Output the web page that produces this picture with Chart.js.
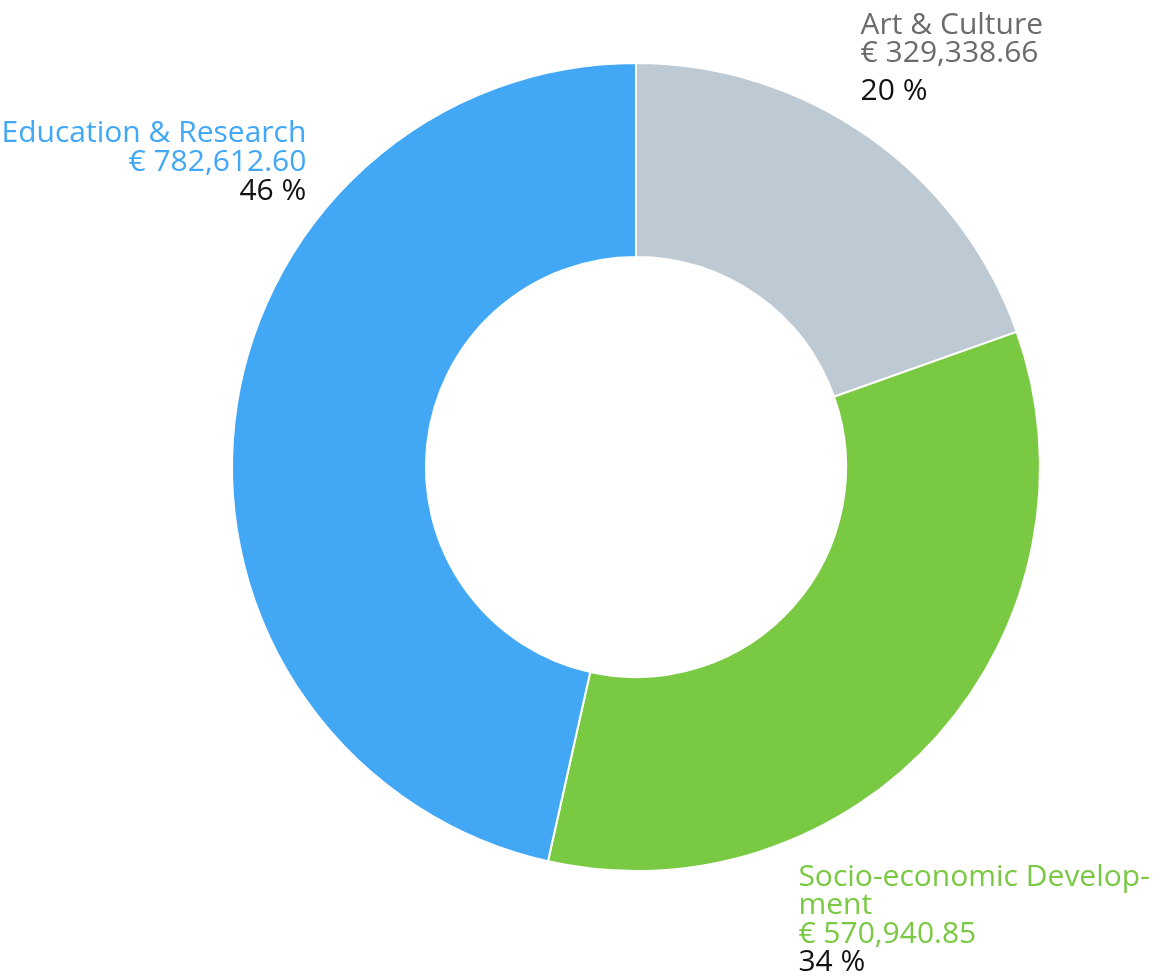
<!DOCTYPE html>
<html>
<head>
<meta charset="utf-8">
<script src="https://cdn.jsdelivr.net/npm/chart.js@4.4.1/dist/chart.umd.min.js"></script>
<style>
  html, body { margin: 0; padding: 0; background: #fff; }
  #wrap { width: 1163px; height: 978px; position: relative; }
</style>
</head>
<body>
<div id="wrap"><canvas id="donut"></canvas></div>
<script>
// data, clockwise from 12 o'clock
const categories = ['Art & Culture', 'Socio-economic Development', 'Education & Research'];
const amounts = [329338.66, 570940.85, 782612.60];
const amountLabels = ['€ 329,338.66', '€ 570,940.85', '€ 782,612.60'];
const percentLabels = ['20 %', '34 %', '46 %'];
const nameLines = [['Art & Culture'], ['Socio-economic Develop-', 'ment'], ['Education & Research']];

const sliceColors = ['#bdcad3', '#7ac943', '#42a8f5'];
const labelColors = ['#6b6b6b', '#7ac943', '#42a8f5'];

// label anchors in units of the outer radius, relative to the centre
const labelPlace = [
    { dx: 0.556, dy: -1.072, align: 'left', pctGap: 38 },
    { dx: 0.402, dy: 1.037, align: 'left', pctGap: 28 },
    { dx: -0.816, dy: -0.804, align: 'right', pctGap: 29 }
];

const labelPlugin = {
    id: 'sliceLabels',
    afterDraw(chart) {
        const ctx = chart.ctx;
        const meta = chart.getDatasetMeta(0);
        ctx.save();
        ctx.font = '30px "Open Sans", Lato, sans-serif';
        ctx.textBaseline = 'alphabetic';
        meta.data.forEach((arc, i) => {
            const p = labelPlace[i];
            const r = arc.outerRadius;
            const x = arc.x + p.dx * r;
            let y = arc.y + p.dy * r;
            ctx.textAlign = p.align;
            ctx.fillStyle = labelColors[i];
            nameLines[i].forEach(line => {
                ctx.fillText(line, x, y);
                y += 28.5;
            });
            ctx.fillText(amountLabels[i], x, y);
            y += p.pctGap;
            ctx.fillStyle = '#111';
            ctx.fillText(percentLabels[i], x, y);
        });
        ctx.restore();
    }
};

new Chart(document.getElementById('donut'), {
    type: 'doughnut',
    data: {
        labels: categories,
        datasets: [{
            data: amounts,
            backgroundColor: sliceColors,
            borderColor: '#ffffff',
            borderWidth: 2,
            hoverOffset: 0
        }]
    },
    options: {
        responsive: true,
        maintainAspectRatio: false,
        animation: false,
        cutout: '52%',
        layout: { padding: { left: 231, right: 122, top: 62, bottom: 106 } },
        plugins: {
            legend: { display: false },
            tooltip: { enabled: false }
        }
    },
    plugins: [labelPlugin]
});
</script>
</body>
</html>
